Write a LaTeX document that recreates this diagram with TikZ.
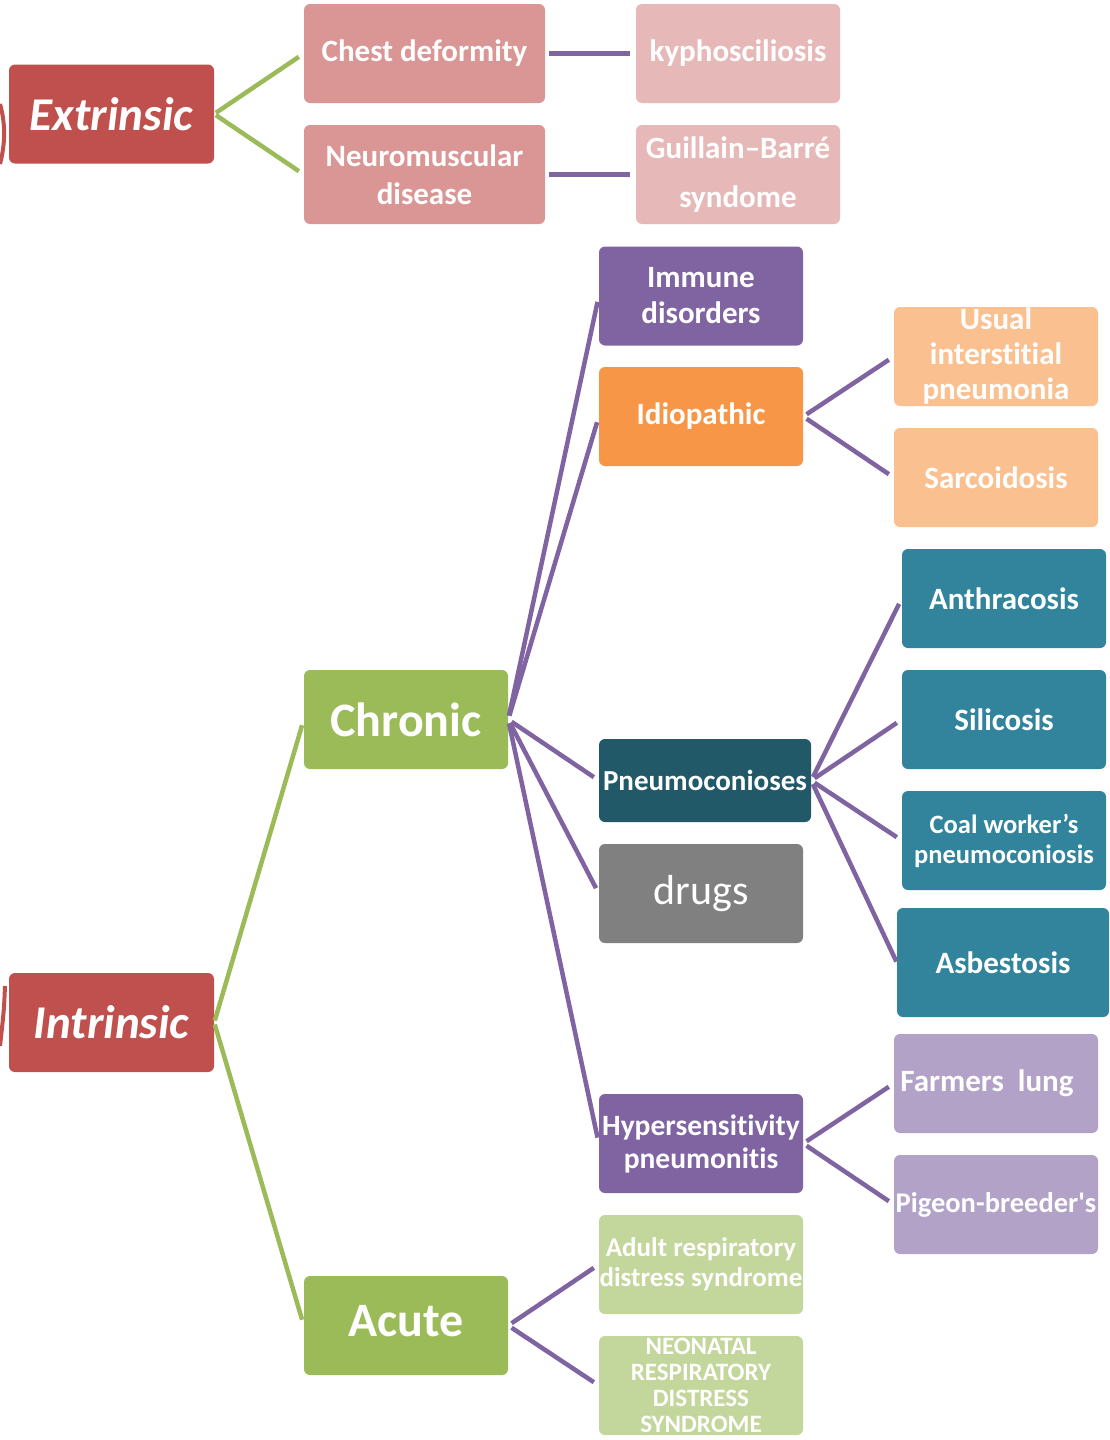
\documentclass[tikz,border=0pt]{standalone}
\usepackage{fontspec}
\setmainfont{Carlito}[Ligatures={NoCommon,TeXOff}]
\usetikzlibrary{positioning}

\definecolor{extred}{HTML}{C0504D}
\definecolor{rosebox}{HTML}{D99694}
\definecolor{paleros}{HTML}{E6B9B8}
\definecolor{violet}{HTML}{8064A2}
\definecolor{orangebx}{HTML}{F79646}
\definecolor{peach}{HTML}{FAC090}
\definecolor{leaf}{HTML}{9BBB59}
\definecolor{darkteal}{HTML}{215968}
\definecolor{stone}{HTML}{808080}
\definecolor{teal}{HTML}{31849B}
\definecolor{lavender}{HTML}{B3A2C7}
\definecolor{palegreen}{HTML}{C3D69B}

\tikzset{
  box/.style={rounded corners=6pt, minimum width=204pt, minimum height=99pt,
    inner sep=0pt, align=center, text=white,
    font=\bfseries\fontsize{31}{36}\selectfont},
  greenline/.style={leaf, line width=4.5pt, shorten <=2pt, shorten >=6pt},
  purpleline/.style={violet, line width=4.5pt, shorten <=4pt, shorten >=6pt}
}

\begin{document}
\begin{tikzpicture}[x=1pt,y=-1pt]
\fill[white] (0,0) rectangle (1109,1440);
\useasboundingbox (0,0) rectangle (1109,1440);

%Cut edges
\draw[extred, line width=4pt] (0,104) .. controls (6,125) and (5,145) .. (0,164);
\draw[extred, line width=4pt] (5,986) .. controls (4,1010) .. (0,1046);

%Extrinsic
\node[box, fill=extred, minimum width=205pt, font=\bfseries\itshape\fontsize{47}{52}\selectfont] (extr) at (111.5,114) {Extrinsic};
\node[box, fill=rosebox, minimum width=241pt] (chest) at (424.5,53.5) {\raisebox{4pt}{Chest deformity}};
\node[box, fill=rosebox, minimum width=241pt, font=\bfseries\fontsize{31}{38}\selectfont] (neuro) at (424.5,174.5) {Neuromuscular\\disease};
\node[box, fill=paleros] (kypho) at (738,53.5) {kyphosciliosis};
\node[box, fill=paleros, font=\bfseries\fontsize{31}{49}\selectfont] (gbs) at (738,174.5) {Guillain–Barré\\syndome};

%Intrinsic
\node[box, fill=extred, minimum width=205pt, font=\bfseries\itshape\fontsize{47}{52}\selectfont] (intr) at (111.5,1022.5) {Intrinsic};
\node[box, fill=leaf, font=\bfseries\fontsize{48}{54}\selectfont] (chronic) at (406,719.5) {Chronic};
\node[box, fill=leaf, font=\bfseries\fontsize{48}{54}\selectfont] (acute) at (406,1325.5) {\raisebox{9pt}{Acute}};

%Chronic
\node[box, fill=violet] (immune) at (701,296) {Immune\\disorders};
\node[box, fill=orangebx] (idio) at (701,416.5) {Idiopathic};
\node[box, fill=darkteal, minimum width=212pt, minimum height=83pt, font=\bfseries\fontsize{29}{34}\selectfont] (pneumo) at (705,780.5) {Pneumoconioses};
\node[box, fill=stone, font=\fontsize{42}{48}\selectfont] (drugs) at (701,893.5) {drugs};
\node[box, fill=violet, font=\bfseries\fontsize{29.5}{33}\selectfont] (hyper) at (701,1143.5) {Hypersensitivity\\pneumonitis};

%Idiopathic
\node[box, fill=peach, font=\bfseries\fontsize{31}{35}\selectfont] (uip) at (996,356.5) {Usual\\interstitial\\pneumonia};
\node[box, fill=peach] (sarc) at (996,477.5) {Sarcoidosis};

%Pneumoconioses
\node[box, fill=teal] (anthra) at (1004,598.5) {Anthracosis};
\node[box, fill=teal] (sili) at (1004,719.5) {Silicosis};
\node[box, fill=teal, font=\bfseries\fontsize{26.5}{30}\selectfont] (coal) at (1004,840.5) {Coal worker’s\\pneumoconiosis};
\node[box, fill=teal, minimum width=212pt, minimum height=109pt] (asbes) at (1003,962.5) {Asbestosis};

%Hypersensitivity
\node[box, fill=lavender] (farm) at (996,1083.5) {\hspace*{-18pt}Farmers\ \ lung};
\node[box, fill=lavender, font=\bfseries\fontsize{28.5}{34}\selectfont] (pigeon) at (996,1204.5) {Pigeon-breeder's};

%Acute
\node[box, fill=palegreen, font=\bfseries\fontsize{27}{30}\selectfont] (ards) at (701,1264.5) {Adult respiratory\\distress syndrome};
\node[box, fill=palegreen, font=\bfseries\fontsize{25}{26}\selectfont] (nrds) at (701,1385.5) {NEONATAL\\RESPIRATORY\\DISTRESS\\SYNDROME};

%Links
\draw[greenline] (extr.east) -- (chest.west);
\draw[greenline] (extr.east) -- (neuro.west);
\draw[purpleline] (chest.east) -- (kypho.west);
\draw[purpleline] (neuro.east) -- (gbs.west);
\draw[greenline] (intr.east) -- (chronic.west);
\draw[greenline] (intr.east) -- (acute.west);
\foreach \t in {immune,idio,pneumo,drugs,hyper}
  \draw[purpleline] (chronic.east) -- (\t.west);
\foreach \t in {uip,sarc}
  \draw[purpleline] (idio.east) -- (\t.west);
\foreach \t in {anthra,sili,coal}
  \draw[purpleline] (pneumo.east) -- (\t.west);
\draw[purpleline, shorten >=1pt] (pneumo.east) -- (asbes.west);
\foreach \t in {farm,pigeon}
  \draw[purpleline] (hyper.east) -- (\t.west);
\foreach \t in {ards,nrds}
  \draw[purpleline] (acute.east) -- (\t.west);

\end{tikzpicture}
\end{document}
